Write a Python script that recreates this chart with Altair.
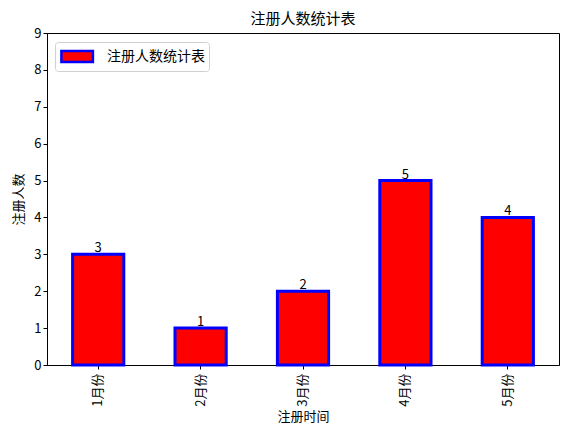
import altair as alt
import pandas as pd

# Data
months = ["1月份", "2月份", "3月份", "4月份", "5月份"]
counts = [3, 1, 2, 5, 4]
series_name = "注册人数统计表"

FONT = "Noto Sans CJK SC"

df = pd.DataFrame({"month": months, "count": counts, "series": series_name})

base = alt.Chart(df).encode(
    x=alt.X("month:N", sort=months, title="注册时间",
            scale=alt.Scale(paddingInner=0.5, paddingOuter=0.25),
            axis=alt.Axis(labelAngle=-90, labelFontSize=13, titleFontSize=13,
                          labelPadding=4, titlePadding=4)),
    y=alt.Y("count:Q", title="注册人数",
            scale=alt.Scale(domain=[0, 9], nice=False),
            axis=alt.Axis(values=list(range(10)), format="d", grid=False,
                          labelFontSize=13, titleFontSize=13, titlePadding=8)),
)

# legend patch: wide rectangle, shifted right so it sits inside the frame
bars = base.mark_bar(stroke="blue", strokeWidth=3).encode(
    color=alt.Color("series:N", title=None,
                    scale=alt.Scale(domain=[series_name], range=["red"]),
                    legend=alt.Legend(orient="none", legendX=8, legendY=9,
                                      symbolType="M-0.9,-0.6H2.6V0.6H-0.9Z",
                                      symbolSize=324, symbolStrokeColor="blue",
                                      symbolStrokeWidth=2.5, symbolFillColor="red",
                                      labelFontSize=14, labelFont=FONT,
                                      strokeColor="#d0d0d0", fillColor="white",
                                      cornerRadius=3, padding=4, labelOffset=27)),
)

labels = base.mark_text(baseline="bottom", dy=1, fontSize=13, font=FONT,
                        color="black").encode(text="count:Q")

chart = (bars + labels).properties(
    width=512,
    height=332,
    title=alt.TitleParams("注册人数统计表", fontSize=15, font=FONT,
                          fontWeight="normal", offset=0, color="black"),
    autosize=alt.AutoSizeParams(type="none"),
    padding={"left": 39, "top": 25, "right": 13, "bottom": 69},
).configure_axis(
    domainColor="black", tickColor="black", labelColor="black",
    titleColor="black", labelFont=FONT, titleFont=FONT,
    titleFontWeight="normal", tickSize=4,
).configure_view(
    stroke="black", strokeWidth=1,
)

chart.save("out.html", embed_options={"renderer": "svg", "actions": False})
